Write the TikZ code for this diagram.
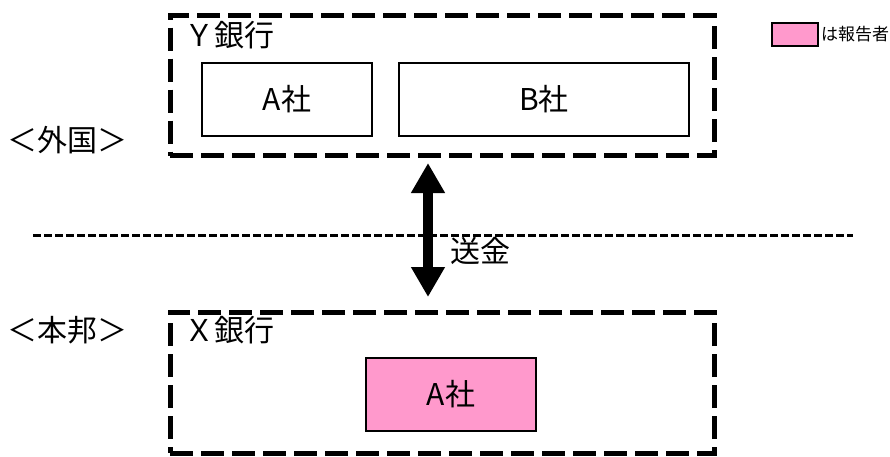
\documentclass[tikz,border=0pt]{standalone}
\usepackage{fontspec}
\setmainfont{Noto Sans CJK JP}
\usetikzlibrary{arrows.meta,positioning}

\begin{document}
\begin{tikzpicture}[x=1pt,y=-1pt,
  bank/.style={draw,line width=5pt,dash pattern=on 23pt off 8pt,minimum width=544pt,minimum height=140pt,inner sep=0pt},
  company/.style={draw,line width=2pt,minimum height=73pt,inner sep=0pt,font=\fontsize{30}{34}\selectfont},
  label/.style={inner sep=0pt,font=\fontsize{30}{34}\selectfont}]
\useasboundingbox (0,0) rectangle (890,456);
% Banks
\node[bank] (ybank) at (442,85.5) {};
\node[bank,minimum height=141pt] (xbank) at (442,382.5) {};
\node[label,anchor=west] (yname) at (184,35) {Ｙ銀行};
\node[label,anchor=west] (xname) at (184,330) {Ｘ銀行};
% Companies
\node[company,minimum width=170pt] (ya) at (287,99) {A社};
\node[company,minimum width=290pt] (yb) at (544,99) {B社};
\node[company,minimum width=170pt,fill={rgb,255:red,255;green,153;blue,204}] (xa) at (451,394.5) {A社};
% Regions
\node[label] (abroad) at (67,140) {＜外国＞};
\node[label] (home) at (67,330) {＜本邦＞};
\coordinate (bleft) at (33,235);
\coordinate (bright) at (853,235);
\draw[line width=3pt,dash pattern=on 8pt off 3pt] (bleft) -- (bright);
% Remittance
\coordinate (top) at (428,163);
\coordinate (bottom) at (428,297);
\draw[line width=10pt,{Triangle[length=30pt,width=32pt]}-{Triangle[length=30pt,width=32pt]}] (top) -- (bottom);
\node[label,anchor=west] (send) at (450,251) {送金};
% Legend
\node[draw,line width=2pt,minimum width=46pt,minimum height=23pt,inner sep=0pt,fill={rgb,255:red,255;green,153;blue,204}] (key) at (795,34.5) {};
\node[inner sep=0pt,anchor=west,font=\fontsize{17}{19}\selectfont,right=2pt of key] (keytext) {は報告者};
\end{tikzpicture}
\end{document}
